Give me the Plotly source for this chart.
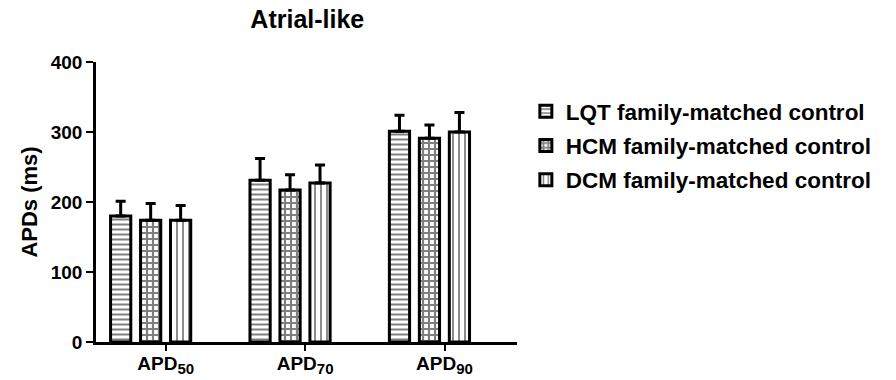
import plotly.graph_objects as go

categories = ["APD<sub><span style='font-size:15px'>50</span></sub>",
              "APD<sub><span style='font-size:15px'>70</span></sub>",
              "APD<sub><span style='font-size:15px'>90</span></sub>"]
series_names = ["LQT family-matched control", "HCM family-matched control", "DCM family-matched control"]
lqt_mean = [180, 231, 301]
lqt_sem = [21, 31, 23]
hcm_mean = [174, 217, 291]
hcm_sem = [24, 22, 19]
dcm_mean = [174, 227, 300]
dcm_sem = [21, 26, 28]
y_ticks = [0, 100, 200, 300, 400]

means = [lqt_mean, hcm_mean, dcm_mean]
sems = [lqt_sem, hcm_sem, dcm_sem]
patterns = [
    dict(shape="-", size=5, solidity=0.4, fgcolor="black", bgcolor="white"),
    dict(shape="+", size=6, solidity=0.6, fgcolor="black", bgcolor="white"),
    dict(shape="|", size=6, solidity=0.3, fgcolor="black", bgcolor="white"),
]

FONT = "Liberation Sans, Arial, sans-serif"
bar_w = 0.145
group_shift = -0.108
step = 0.215

fig = go.Figure()
for k in range(3):
    center = group_shift + (k - 1) * step
    fig.add_trace(go.Bar(
        x=categories,
        y=means[k],
        name=series_names[k],
        legendgroup=f"g{k}",
        width=bar_w,
        offset=center - bar_w / 2,
        marker=dict(color="white", line=dict(color="black", width=3), pattern=patterns[k]),
        error_y=dict(type="data", array=sems[k], arrayminus=[0] * 3, symmetric=False,
                     color="black", thickness=3, width=5),
    ))

fig.update_layout(
    width=896, height=380,
    margin=dict(l=96, r=379, t=62, b=38),
    barmode="overlay",
    plot_bgcolor="white", paper_bgcolor="white",
    font=dict(family=FONT, color="black", weight="bold"),
    title=dict(text="Atrial-like", x=0.343, xanchor="center", y=0.95, yanchor="middle",
               font=dict(size=25, family=FONT, weight="bold")),
    legend=dict(x=1.021, xanchor="left", y=0.90, yanchor="top",
                font=dict(size=22.5, family=FONT, weight="bold"),
                bgcolor="rgba(0,0,0,0)", tracegroupgap=2),
    showlegend=True,
)
fig.update_xaxes(type="category", range=[-0.5, 2.52], showline=True, linecolor="black", linewidth=2.5,
                 ticks="outside", ticklen=6, tickwidth=2, tickcolor="black", showgrid=False, zeroline=False,
                 automargin=False, ticklabelstandoff=-4,
                 tickfont=dict(size=19, family=FONT, weight="bold"))
fig.update_yaxes(range=[0, 400], tickvals=y_ticks, showline=True, linecolor="black", linewidth=2.5,
                 ticks="outside", ticklen=7, tickwidth=2, tickcolor="black", showgrid=False, zeroline=False,
                 automargin=False,
                 tickfont=dict(size=19, family=FONT, weight="bold"),
                 title=dict(text="APDs (ms)", standoff=8, font=dict(size=22, family=FONT, weight="bold")))

fig.write_html("out.html")
